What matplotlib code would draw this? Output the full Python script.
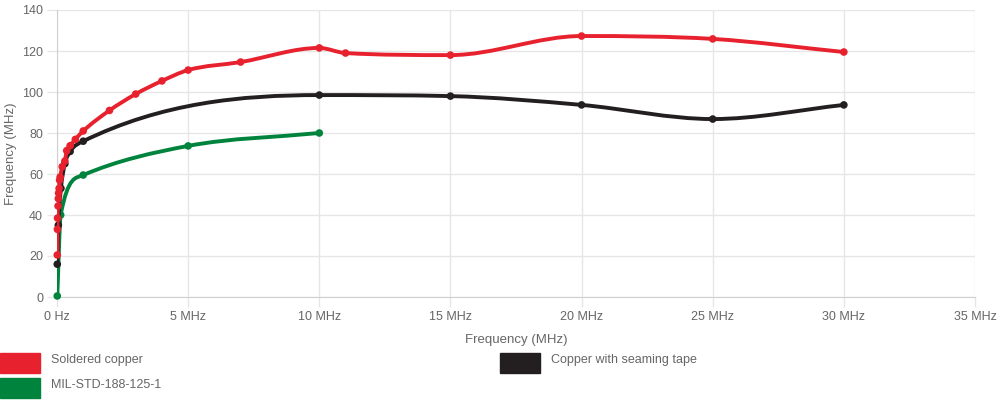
import numpy as np
import matplotlib
matplotlib.use("Agg")
import matplotlib.pyplot as plt
from matplotlib.path import Path
from matplotlib.patches import PathPatch, Rectangle

# Data (MHz, MHz)
soldered_x = [0.01, 0.015, 0.02, 0.04, 0.05, 0.06, 0.08, 0.1, 0.12, 0.2, 0.3, 0.37, 0.5, 0.7, 1, 2, 3, 4, 5, 7, 10, 11, 15, 20, 25, 30]
soldered_y = [20.5, 33, 38.5, 44.4, 48, 50.7, 53, 57, 58.5, 63.6, 66.3, 71.4, 73.8, 76.9, 81, 91, 99, 105.4, 110.7, 114.6, 121.5, 119, 118, 127.3, 125.9, 119.5]
seaming_x = [0.01, 0.05, 0.15, 0.3, 0.5, 1, 10, 15, 20, 25, 30]
seaming_y = [16, 35, 53, 65, 71, 76, 98.5, 98, 93.7, 86.8, 93.7]
mil_x = [0.01, 0.14, 1, 5, 10]
mil_y = [0.5, 40, 59.5, 73.7, 80]
series_labels = ["Soldered copper", "Copper with seaming tape", "MIL-STD-188-125-1"]
series_colors = ["#e8212f", "#231f20", "#00843d"]
x_ticks = [0, 5, 10, 15, 20, 25, 30, 35]
x_tick_labels = ["0 Hz", "5 MHz", "10 MHz", "15 MHz", "20 MHz", "25 MHz", "30 MHz", "35 MHz"]
y_ticks = [0, 20, 40, 60, 80, 100, 120, 140]

plt.rcParams['font.family'] = ['Liberation Sans', 'DejaVu Sans']
fig = plt.figure(figsize=(10, 4), dpi=100)
ax = fig.add_axes([0.057, 1 - 297 / 400, 0.918, 287 / 400])
ax.set_xlim(0, 35)
ax.set_ylim(0, 140)


def monotone_path(xs, ys):
    x = np.array(xs, float)
    y = np.array(ys, float)
    n = len(x)
    d = (y[1:] - y[:-1]) / (x[1:] - x[:-1])
    m = np.zeros(n)
    m[0] = d[0]
    m[-1] = d[-1]
    for i in range(1, n - 1):
        if d[i - 1] == 0 or d[i] == 0 or np.sign(d[i - 1]) != np.sign(d[i]):
            m[i] = 0
        else:
            m[i] = (d[i - 1] + d[i]) / 2
    for i in range(n - 1):
        if d[i] == 0:
            m[i] = m[i + 1] = 0
            continue
        a = m[i] / d[i]
        b = m[i + 1] / d[i]
        sq = a * a + b * b
        if sq > 9:
            tau = 3 / np.sqrt(sq)
            m[i] = a * tau * d[i]
            m[i + 1] = b * tau * d[i]
    verts = [(x[0], y[0])]
    codes = [Path.MOVETO]
    for i in range(1, n):
        dx = (x[i] - x[i - 1]) / 3
        verts += [(x[i - 1] + dx, y[i - 1] + m[i - 1] * dx), (x[i] - dx, y[i] - m[i] * dx), (x[i], y[i])]
        codes += [Path.CURVE4] * 3
    return Path(verts, codes)


for xs, ys, c, z in [(mil_x, mil_y, series_colors[2], 3), (seaming_x, seaming_y, series_colors[1], 4), (soldered_x, soldered_y, series_colors[0], 5)]:
    ax.add_patch(PathPatch(monotone_path(xs, ys), facecolor='none', edgecolor=c, lw=2.8, zorder=z, capstyle='round', joinstyle='round'))
    ax.scatter(xs, ys, s=30, color=c, zorder=z, edgecolors='none', clip_on=False)

ax.set_xticks(x_ticks)
ax.set_xticklabels(x_tick_labels)
ax.set_yticks(y_ticks)
ax.grid(True, color='#e6e6e6', lw=1)
ax.set_axisbelow(True)
ax.tick_params(axis='both', colors='#e6e6e6', labelcolor='#666666', labelsize=9, length=7, width=1, pad=3)
for s in ['top', 'right']:
    ax.spines[s].set_visible(False)
for s in ['left', 'bottom']:
    ax.spines[s].set_color('#d0d0d0')
ax.set_xlabel("Frequency (MHz)", color='#666666', fontsize=9.5, labelpad=8)
ax.set_ylabel("Frequency (MHz)", color='#666666', fontsize=9.5, labelpad=4)

# Legend
legend_items = [(0, 353, series_colors[0], series_labels[0]),
                (500, 353, series_colors[1], series_labels[1]),
                (0, 378, series_colors[2], series_labels[2])]
for x0, y0, c, lab in legend_items:
    fig.add_artist(Rectangle((x0 / 1000, 1 - (y0 + 20) / 400), 40 / 1000, 20 / 400, color=c, transform=fig.transFigure))
    fig.text((x0 + 51) / 1000, 1 - (y0 + 7) / 400, lab, color='#666666', fontsize=9, va='center', ha='left')

fig.savefig("out.png", dpi=100)
